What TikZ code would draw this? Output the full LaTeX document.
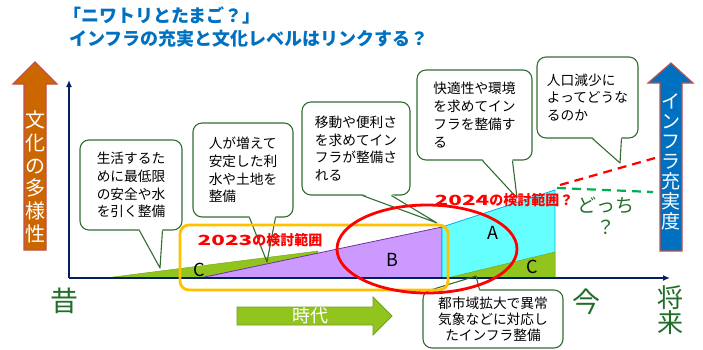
\documentclass[tikz,border=0pt]{standalone}
\usepackage{fontspec}
\setmainfont{Noto Sans CJK JP}
\usetikzlibrary{arrows.meta, calc}
\definecolor{ttlblue}{RGB}{0,112,192}
\definecolor{cultorange}{RGB}{204,102,0}
\definecolor{arrborder}{RGB}{192,80,77}
\definecolor{navy}{RGB}{0,32,96}
\definecolor{cgreen}{RGB}{146,196,30}
\definecolor{cgreenline}{RGB}{110,160,30}
\definecolor{bfill}{RGB}{204,153,255}
\definecolor{bline}{RGB}{112,48,160}
\definecolor{afill}{RGB}{102,255,255}
\definecolor{aline}{RGB}{0,176,240}
\definecolor{bubgreen}{RGB}{50,110,50}
\definecolor{rngorange}{RGB}{255,192,0}
\definecolor{dashgreen}{RGB}{0,176,80}
\definecolor{txtgreen}{RGB}{34,110,40}
\tikzset{
  ttl/.style={anchor=west, inner sep=0pt, text=ttlblue, font=\fontsize{18}{18}\selectfont\bfseries},
  bigarr/.style={draw=arrborder, line width=1.2pt},
  vtxt/.style={align=center, inner sep=0pt, text=white},
  axis/.style={draw=navy, line width=1.8pt, -{Latex[length=7pt, width=6pt]}},
  bub/.style={draw=bubgreen, fill=white, line width=1.1pt, rounded corners=9pt, inner sep=2pt,
              font=\fontsize{13.7}{17.8}\selectfont},
  bubline/.style={draw=bubgreen, line width=1.1pt, line join=round},
  abc/.style={inner sep=0pt, font=\fontsize{18}{18}\selectfont},
  rngtxt/.style={inner sep=0pt, text=red, font=\fontsize{14}{14}\selectfont\bfseries},
  era/.style={inner sep=0pt, text=txtgreen, align=center},
}
\newcommand{\wdigits}[1]{\scalebox{1.6}[1]{#1}}

\begin{document}
\begin{tikzpicture}[x=1pt, y=-1pt]
  \useasboundingbox (0,0) rectangle (703,349);

  % title
  \node[ttl] (ttl1) at (63,15) {「ニワトリとたまご？」};
  \node[ttl] (ttl2) at (69,39) {インフラの充実と文化レベルはリンクする？};

  % side arrows
  \draw[bigarr, fill=cultorange] (24,250) -- (24,84) -- (13,84) -- (35,62) -- (57,84) -- (46,84) -- (46,250) -- cycle;
  \node[vtxt, font=\fontsize{20}{22.7}\selectfont] (cult) at (35,177) {文\\化\\の\\多\\様\\性};
  \draw[bigarr, fill=ttlblue] (660,251) -- (660,83) -- (648,83) -- (671,63) -- (693,83) -- (682,83) -- (682,251) -- cycle;
  \node[vtxt, font=\fontsize{19}{20}\selectfont] (infra) at (671,162) {イ\\ン\\フ\\ラ\\充\\実\\度};

  % callouts
  \node[bub, minimum width=102, minimum height=90, align=center] (c1) at (131,185)
    {生活するた\\めに最低限\\の安全や水\\を引く整備};
  \node[bub, minimum width=100, minimum height=94, align=left] (c2) at (243,170)
    {人が増えて\\安定した利\\水や土地を\\整備};
  \node[bub, minimum width=108, minimum height=93, align=left] (c3) at (356,148.5)
    {移動や便利さ\\を求めてイン\\フラが整備さ\\れる};
  \node[bub, minimum width=115, minimum height=90, align=left] (c4) at (474.5,115)
    {快適性や環境\\を求めてイン\\フラを整備す\\る};
  \node[bub, minimum width=101, minimum height=81, align=left] (c5) at (587.5,97.5)
    {人口減少に\\よってどうな\\るのか};
  \node[bub, minimum width=140, minimum height=58, align=center, font=\fontsize{13.7}{16}\selectfont] (c6) at (493,319)
    {都市域拡大で異常\\気象などに対応し\\たインフラ整備};

  \coordinate (t1) at (160,268);
  \coordinate (t2) at (267,262);
  \coordinate (t3) at (437,223);
  \coordinate (t4) at (517,198);
  \coordinate (t5) at (620,163);
  \coordinate (t6) at (476,276);

  \foreach \nm/\ed/\ba/\bb/\tp/\sh in {c1/south west/60/83/t1/-1.5, c2/south west/57/83/t2/-1.5,
      c3/south west/61/90/t3/-1.5, c4/south west/66/96/t4/-1.5, c5/south west/56/85/t5/-1.5,
      c6/north west/10/57/t6/1.5}
    \fill[white] ($(\nm.\ed)+(\ba,\sh)$) -- (\tp) -- ($(\nm.\ed)+(\bb,\sh)$) -- cycle;

  % areas
  \filldraw[fill=cgreen, draw=cgreenline] (105,278) -- (318,251) -- (318,278) -- cycle;
  \filldraw[fill=bfill, draw=bline, line width=0.8pt] (200,278) -- (442,227) -- (442,278) -- cycle;
  \filldraw[fill=afill, draw=aline, line width=0.8pt] (442,227) -- (555,190) -- (555,278) -- (442,278) -- cycle;
  \filldraw[fill=cgreen, draw=cgreenline] (447,278) -- (555,252) -- (555,278) -- cycle;

  % axes
  \coordinate (o) at (69,278);
  \coordinate (ytop) at (69,80);
  \coordinate (xend) at (670,278);
  \draw[axis] (o) -- (ytop);
  \draw[axis] (o) -- (xend);

  \foreach \nm/\ed/\ba/\bb/\tp in {c1/south west/60/83/t1, c2/south west/57/83/t2,
      c3/south west/61/90/t3, c4/south west/66/96/t4, c5/south west/56/85/t5,
      c6/north west/10/57/t6}
    \draw[bubline] ($(\nm.\ed)+(\ba,0)$) -- (\tp) -- ($(\nm.\ed)+(\bb,0)$);

  % ranges
  \draw[rngorange, line width=2.8pt, rounded corners=9pt] (180,225) rectangle (448,290);
  \draw[red, line width=2.8pt] (427,249) ellipse [x radius=90, y radius=44];

  \node[abc] (la) at (493,233) {A};
  \node[abc] (lb) at (392,260) {B};
  \node[abc] (lc1) at (199,270) {C};
  \node[abc] (lc2) at (532,267) {C};

  \node[rngtxt] (r23) at (260,240) {\wdigits{2023}の検討範囲};
  \node[rngtxt] (r24) at (504,200) {\wdigits{2024}の検討範囲？};

  % future
  \coordinate (fr1) at (560,185);
  \coordinate (fr2) at (655,158);
  \coordinate (fg1) at (557,188);
  \coordinate (fg2) at (653,192);
  \draw[red, line width=2.2pt, dash pattern=on 9pt off 6pt] (fr1) -- (fr2);
  \draw[dashgreen, line width=2.2pt, dash pattern=on 9pt off 6pt] (fg1) -- (fg2);
  \node[era, font=\fontsize{19}{22}\selectfont] (which) at (606,216) {どっち\\？};

  % time
  \node[era, font=\fontsize{28}{28}\selectfont] (past) at (64,301) {昔};
  \node[era, font=\fontsize{28}{28}\selectfont] (now) at (586,302) {今};
  \node[era, font=\fontsize{26}{25}\selectfont] (fut) at (670,310) {将\\来};
  \draw[fill=cgreen, draw=cgreenline, line width=0.8pt] (237,307) -- (373,307) -- (373,297) -- (392,316)
    -- (373,335) -- (373,325) -- (237,325) -- cycle;
  \node[vtxt, font=\fontsize{18}{18}\selectfont] (time) at (310,316) {時代};
\end{tikzpicture}
\end{document}
